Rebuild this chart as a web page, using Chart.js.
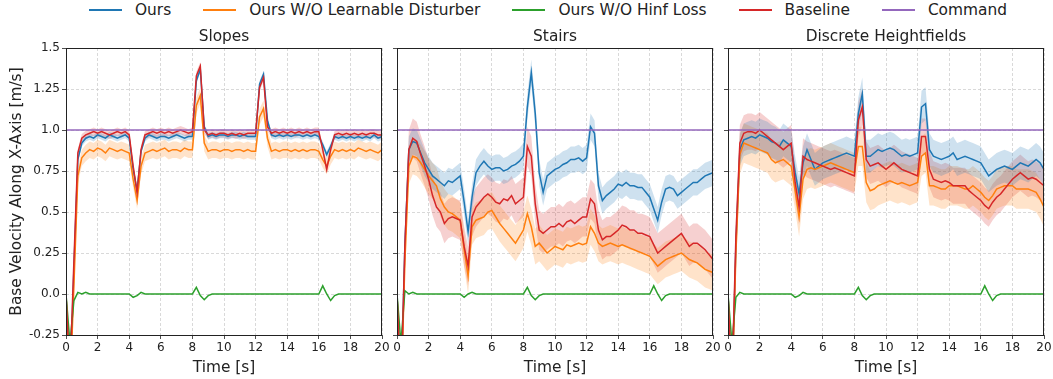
<!DOCTYPE html>
<html>
<head>
<meta charset="utf-8">
<script src="https://cdn.jsdelivr.net/npm/chart.js@4.4.1/dist/chart.umd.min.js"></script>
<style>
  body { margin: 0; background: #fff; width: 1053px; height: 379px; overflow: hidden; position: relative; font-family: "DejaVu Sans", sans-serif; }
  #legend { position: absolute; left: 89px; top: 0; height: 20px; display: flex; align-items: center; font-size: 15.4px; color: #222; white-space: nowrap; }
  .item { display: flex; align-items: center; margin-right: 32px; }
  .sw { width: 33px; height: 2px; margin-right: 13px; }
  canvas { position: absolute; top: 22px; }
</style>
</head>
<body>
<div id="legend"></div>
<canvas id="c1" width="390" height="357" style="left:0px"></canvas>
<canvas id="c2" width="330" height="357" style="left:390px"></canvas>
<canvas id="c3" width="333" height="357" style="left:720px"></canvas>
<script>
// sample times, every 0.25 s from 0 to 20
const times = Array.from({length: 81}, (_, i) => i * 0.25);

const seriesNames = ['Ours', 'Ours W/O Learnable Disturber', 'Ours W/O Hinf Loss', 'Baseline', 'Command'];
const seriesColors = ['#1f77b4', '#ff7f0e', '#2ca02c', '#d62728', '#9467bd'];
const bandColors = ['rgba(31,119,180,0.22)', 'rgba(255,127,14,0.22)', 'rgba(44,160,44,0.2)', 'rgba(214,39,40,0.22)'];
const panelTitles = ['Slopes', 'Stairs', 'Discrete Heightfields'];
const xTickLabels = ['0', '2', '4', '6', '8', '10', '12', '14', '16', '18', '20'];
const yTickLabels = ['-0.25', '0.0', '0.25', '0.5', '0.75', '1.0', '1.25', '1.5'];
const commandValue = 1.0;

// ---- Slopes ----
const slopesOurs = [
  0, -0.55, 0.15, 0.82, 0.92, 0.95, 0.96, 0.95,
  0.97, 0.96, 0.95, 0.97, 0.96, 0.95, 0.96, 0.97,
  0.95, 0.76, 0.63, 0.87, 0.95, 0.97, 0.96, 0.95,
  0.96, 0.96, 0.95, 0.96, 0.97, 0.96, 0.95, 0.96,
  0.96, 1.30, 1.37, 1.02, 0.96, 0.97, 0.96, 0.97,
  0.97, 0.96, 0.97, 0.97, 0.96, 0.97, 0.96, 0.96,
  0.96, 1.28, 1.34, 1.06, 0.97, 0.96, 0.97, 0.96,
  0.97, 0.96, 0.97, 0.97, 0.96, 0.97, 0.96, 0.97,
  0.96, 0.91, 0.85, 0.90, 0.96, 0.95, 0.96, 0.95,
  0.96, 0.95, 0.96, 0.95, 0.96, 0.95, 0.97, 0.95,
  0.96
];
const slopesNoDisturber = [
  0, -0.6, 0.05, 0.72, 0.83, 0.86, 0.88, 0.87,
  0.89, 0.88, 0.86, 0.89, 0.88, 0.87, 0.88, 0.87,
  0.86, 0.70, 0.57, 0.78, 0.86, 0.87, 0.88, 0.87,
  0.88, 0.89, 0.87, 0.88, 0.88, 0.87, 0.89, 0.88,
  0.88, 1.15, 1.21, 0.92, 0.87, 0.88, 0.88, 0.87,
  0.88, 0.88, 0.87, 0.88, 0.88, 0.87, 0.88, 0.87,
  0.87, 1.08, 1.13, 0.95, 0.87, 0.88, 0.87, 0.88,
  0.88, 0.87, 0.88, 0.87, 0.88, 0.87, 0.88, 0.88,
  0.87, 0.82, 0.78, 0.84, 0.88, 0.87, 0.88, 0.87,
  0.88, 0.87, 0.89, 0.88, 0.87, 0.88, 0.87, 0.86,
  0.88
];
const slopesNoHinf = [
  0, -0.3, -0.04, 0.01, 0.0, 0.01, 0.0, 0.0,
  0.0, 0.0, 0.0, 0.0, 0.0, 0.0, 0.0, 0.0,
  0.0, -0.02, -0.01, 0.01, 0.0, 0.0, 0.0, 0.0,
  0.0, 0.0, 0.0, 0.0, 0.0, 0.0, 0.0, 0.0,
  0.0, 0.04, -0.01, -0.035, -0.01, 0.0, 0.0, 0.0,
  0.0, 0.0, 0.0, 0.0, 0.0, 0.0, 0.0, 0.0,
  0.0, 0.0, 0.0, 0.0, 0.0, 0.0, 0.0, 0.0,
  0.0, 0.0, 0.0, 0.0, 0.0, 0.0, 0.0, 0.0,
  0.0, 0.05, 0.0, -0.04, -0.01, 0.0, 0.0, 0.0,
  0.0, 0.0, 0.0, 0.0, 0.0, 0.0, 0.0, 0.0,
  0.0
];
const slopesBaseline = [
  0, -0.5, 0.2, 0.86, 0.95, 0.97, 0.98, 0.99,
  0.98, 0.99, 0.98, 0.97, 0.98, 0.99, 0.98, 0.99,
  0.97, 0.78, 0.62, 0.88, 0.97, 0.98, 0.99, 0.98,
  0.99, 0.98, 0.99, 0.98, 0.99, 1.00, 0.99, 0.98,
  0.99, 1.33, 1.39, 1.00, 0.97, 0.98, 0.97, 0.98,
  0.98, 0.97, 0.98, 0.97, 0.98, 0.97, 0.98, 0.98,
  0.98, 1.26, 1.32, 1.02, 0.98, 0.99, 0.98, 0.99,
  0.98, 0.99, 0.98, 0.99, 0.98, 0.99, 0.98, 0.99,
  0.99, 0.88, 0.76, 0.88, 0.97, 0.98, 0.97, 0.98,
  0.97, 0.98, 0.97, 0.98, 0.97, 0.98, 0.98, 0.97,
  0.97
];
const slopesSpread = [0.02, 0.05, 0.005, 0.025];

// ---- Stairs ----
const stairsOurs = [
  0, -0.6, 0.3, 0.88, 0.93, 0.92, 0.86, 0.80,
  0.76, 0.72, 0.70, 0.68, 0.66, 0.69, 0.68, 0.70,
  0.72, 0.56, 0.38, 0.59, 0.74, 0.78, 0.81, 0.78,
  0.76, 0.77, 0.77, 0.75, 0.76, 0.78, 0.79, 0.81,
  0.84, 1.14, 1.35, 1.10, 0.74, 0.62, 0.72, 0.74,
  0.76, 0.77, 0.79, 0.80, 0.82, 0.82, 0.83, 0.81,
  0.83, 1.02, 0.98, 0.66, 0.57, 0.60, 0.62, 0.64,
  0.67, 0.66, 0.68, 0.66, 0.66, 0.65, 0.65, 0.62,
  0.59, 0.52, 0.45, 0.56, 0.64, 0.65, 0.64, 0.60,
  0.62, 0.64, 0.66, 0.68, 0.68, 0.70, 0.72, 0.73,
  0.74
];
const stairsNoDisturber = [
  0, -0.65, 0.2, 0.78, 0.84, 0.83, 0.80, 0.76,
  0.72, 0.69, 0.66, 0.58, 0.53, 0.50, 0.49, 0.47,
  0.45, 0.27, 0.11, 0.41, 0.45, 0.46, 0.47, 0.50,
  0.51, 0.47, 0.43, 0.40, 0.37, 0.34, 0.31, 0.35,
  0.39, 0.49, 0.41, 0.29, 0.31, 0.28, 0.25, 0.27,
  0.29, 0.28, 0.27, 0.30, 0.29, 0.30, 0.31, 0.30,
  0.31, 0.41, 0.37, 0.31, 0.29, 0.30, 0.31, 0.30,
  0.29, 0.30, 0.29, 0.28, 0.27, 0.26, 0.25, 0.24,
  0.23, 0.20, 0.17, 0.19, 0.21, 0.22, 0.23, 0.24,
  0.25, 0.23, 0.21, 0.20, 0.19, 0.17, 0.15, 0.14,
  0.13
];
const stairsNoHinf = [
  0, -0.3, 0.02, 0.0, 0.01, 0.0, 0.0, 0.0,
  0.0, 0.0, 0.0, 0.0, 0.0, 0.0, 0.0, 0.0,
  0.0, -0.02, 0.0, 0.01, 0.0, 0.0, 0.0, 0.0,
  0.0, 0.0, 0.0, 0.0, 0.0, 0.0, 0.0, 0.0,
  0.0, 0.04, -0.01, -0.035, -0.01, 0.0, 0.0, 0.0,
  0.0, 0.0, 0.0, 0.0, 0.0, 0.0, 0.0, 0.0,
  0.0, 0.0, 0.0, 0.0, 0.0, 0.0, 0.0, 0.0,
  0.0, 0.0, 0.0, 0.0, 0.0, 0.0, 0.0, 0.0,
  0.0, 0.05, 0.0, -0.04, -0.01, 0.0, 0.0, 0.0,
  0.0, 0.0, 0.0, 0.0, 0.0, 0.0, 0.0, 0.0,
  0.0
];
const stairsBaseline = [
  0, -0.6, 0.3, 0.88, 0.95, 0.93, 0.85, 0.78,
  0.70, 0.60, 0.53, 0.50, 0.43, 0.46, 0.47, 0.46,
  0.45, 0.29, 0.17, 0.47, 0.53, 0.56, 0.59, 0.61,
  0.59, 0.56, 0.55, 0.58, 0.57, 0.60, 0.55, 0.57,
  0.59, 0.90, 0.84, 0.55, 0.39, 0.37, 0.39, 0.41,
  0.41, 0.43, 0.41, 0.44, 0.45, 0.43, 0.45, 0.47,
  0.47, 0.58, 0.55, 0.39, 0.33, 0.35, 0.35, 0.37,
  0.39, 0.42, 0.41, 0.39, 0.39, 0.37, 0.37, 0.36,
  0.35, 0.30, 0.25, 0.27, 0.29, 0.31, 0.33, 0.35,
  0.37, 0.33, 0.29, 0.31, 0.31, 0.29, 0.27, 0.24,
  0.21
];
const stairsSpread = [0.08, 0.11, 0.005, 0.12];

// ---- Discrete Heightfields ----
const heightOurs = [
  0, -0.6, 0.3, 0.88, 0.94, 0.95, 0.96, 0.95,
  0.97, 0.96, 0.95, 0.93, 0.92, 0.90, 0.94, 0.92,
  0.90, 0.74, 0.61, 0.80, 0.88, 0.82, 0.76, 0.78,
  0.80, 0.81, 0.82, 0.83, 0.84, 0.85, 0.86, 0.85,
  0.84, 1.10, 1.22, 0.84, 0.84, 0.86, 0.88, 0.87,
  0.88, 0.89, 0.88, 0.86, 0.84, 0.85, 0.84, 0.85,
  0.86, 1.14, 1.16, 0.88, 0.84, 0.83, 0.82, 0.83,
  0.84, 0.86, 0.82, 0.83, 0.84, 0.83, 0.82, 0.81,
  0.80, 0.76, 0.72, 0.74, 0.76, 0.77, 0.78, 0.77,
  0.76, 0.78, 0.80, 0.79, 0.78, 0.80, 0.82, 0.80,
  0.76
];
const heightNoDisturber = [
  0, -0.65, 0.25, 0.85, 0.92, 0.91, 0.90, 0.89,
  0.88, 0.87, 0.86, 0.82, 0.80, 0.81, 0.82, 0.80,
  0.78, 0.63, 0.47, 0.70, 0.76, 0.77, 0.76, 0.77,
  0.78, 0.79, 0.80, 0.79, 0.78, 0.77, 0.76, 0.75,
  0.74, 0.90, 0.90, 0.68, 0.63, 0.64, 0.66, 0.67,
  0.68, 0.69, 0.68, 0.67, 0.68, 0.67, 0.66, 0.67,
  0.68, 0.84, 0.86, 0.66, 0.66, 0.65, 0.64, 0.64,
  0.66, 0.66, 0.66, 0.65, 0.64, 0.64, 0.66, 0.64,
  0.62, 0.59, 0.57, 0.60, 0.64, 0.65, 0.66, 0.66,
  0.66, 0.64, 0.64, 0.64, 0.64, 0.63, 0.62, 0.58,
  0.53
];
const heightNoHinf = [
  0, -0.3, -0.02, 0.01, 0.0, 0.0, 0.0, 0.0,
  0.0, 0.0, 0.0, 0.0, 0.0, 0.0, 0.0, 0.0,
  0.0, -0.02, -0.01, 0.01, 0.0, 0.0, 0.0, 0.0,
  0.0, 0.0, 0.0, 0.0, 0.0, 0.0, 0.0, 0.0,
  0.0, 0.04, -0.01, -0.035, -0.01, 0.0, 0.0, 0.0,
  0.0, 0.0, 0.0, 0.0, 0.0, 0.0, 0.0, 0.0,
  0.0, 0.0, 0.0, 0.0, 0.0, 0.0, 0.0, 0.0,
  0.0, 0.0, 0.0, 0.0, 0.0, 0.0, 0.0, 0.0,
  0.0, 0.05, 0.0, -0.04, -0.01, 0.0, 0.0, 0.0,
  0.0, 0.0, 0.0, 0.0, 0.0, 0.0, 0.0, 0.0,
  0.0
];
const heightBaseline = [
  0, -0.55, 0.35, 0.92, 0.98, 0.99, 0.99, 0.98,
  1.00, 0.98, 0.96, 0.94, 0.92, 0.90, 0.88, 0.90,
  0.92, 0.68, 0.53, 0.84, 0.82, 0.81, 0.80, 0.79,
  0.78, 0.77, 0.76, 0.77, 0.76, 0.75, 0.74, 0.73,
  0.72, 1.06, 1.14, 0.82, 0.78, 0.79, 0.80, 0.78,
  0.76, 0.78, 0.80, 0.78, 0.76, 0.75, 0.74, 0.73,
  0.72, 0.96, 0.96, 0.76, 0.70, 0.69, 0.68, 0.69,
  0.68, 0.66, 0.66, 0.66, 0.66, 0.63, 0.61, 0.59,
  0.57, 0.54, 0.52, 0.56, 0.59, 0.61, 0.64, 0.67,
  0.70, 0.72, 0.74, 0.72, 0.70, 0.71, 0.70, 0.68,
  0.66
];
const heightSpread = [0.1, 0.12, 0.005, 0.11];

Chart.defaults.font.family = "'DejaVu Sans', sans-serif";
Chart.defaults.color = '#222';

// legend (shared by the three panels)
const legendEl = document.getElementById('legend');
seriesNames.forEach((name, i) => {
  const item = document.createElement('div');
  item.className = 'item';
  item.innerHTML = '<span class="sw" style="background:' + seriesColors[i] + '"></span><span>' + name + '</span>';
  legendEl.appendChild(item);
});

// box around the plot area + panel title centred on the plot area
const framePlugin = {
  id: 'frame',
  afterDraw(chart) {
    const { ctx, chartArea: a } = chart;
    ctx.save();
    ctx.strokeStyle = '#222';
    ctx.lineWidth = 1;
    ctx.strokeRect(Math.round(a.left) + 0.5, Math.round(a.top) + 0.5,
      Math.round(a.right - a.left) - 1, Math.round(a.bottom - a.top));
    ctx.fillStyle = '#222';
    ctx.font = "15.4px 'DejaVu Sans', sans-serif";
    ctx.textAlign = 'center';
    ctx.textBaseline = 'middle';
    ctx.fillText(chart.options.panelTitle, (a.left + a.right) / 2, a.top - 11);
    ctx.restore();
  }
};

const toPoints = (vals) => vals.map((v, i) => ({ x: times[i], y: v }));

function makeChart(id, title, series, spread, opt) {
  const datasets = [];
  // shaded bands first (mean +/- spread)
  series.forEach((vals, k) => {
    if (k === 2) return;
    const lowIdx = datasets.length;
    datasets.push({
      data: toPoints(vals.map(v => v - spread[k])),
      borderWidth: 0, pointRadius: 0, fill: false, order: 10
    });
    datasets.push({
      data: toPoints(vals.map(v => v + spread[k])),
      borderWidth: 0, pointRadius: 0, fill: lowIdx,
      backgroundColor: bandColors[k], order: 10
    });
  });
  const lineOrder = [4, 3, 2, 1];
  series.forEach((vals, k) => {
    datasets.push({
      label: seriesNames[k],
      data: toPoints(vals),
      borderColor: seriesColors[k],
      borderWidth: 1.5,
      pointRadius: 0,
      tension: 0,
      fill: false,
      order: lineOrder[k]
    });
  });
  datasets.push({
    label: seriesNames[4],
    data: [{ x: 0, y: commandValue }, { x: 20, y: commandValue }],
    borderColor: seriesColors[4],
    borderWidth: 1.5,
    pointRadius: 0,
    fill: false,
    order: 0
  });

  return new Chart(document.getElementById(id), {
    type: 'line',
    data: { datasets },
    options: {
      panelTitle: title,
      responsive: false,
      animation: false,
      layout: { padding: { left: 0, right: opt.padRight, top: 26, bottom: 0 } },
      plugins: {
        legend: { display: false },
        tooltip: { enabled: false },
        filler: { drawTime: 'beforeDatasetsDraw' }
      },
      scales: {
        x: {
          type: 'linear',
          min: 0, max: 20,
          ticks: {
            stepSize: 2, maxRotation: 0, padding: 2,
            font: { size: 12 }, color: '#222',
            callback: (v, i) => xTickLabels[i]
          },
          grid: { color: '#cfcfcf', lineWidth: 0.8, tickColor: '#222', tickLength: 4, tickBorderDash: [] },
          border: { display: false, dash: [3, 2] },
          title: { display: true, text: 'Time [s]', color: '#222', font: { size: 15.4 }, padding: { top: 0, bottom: 2 } },
          afterFit: (s) => { s.height = 44; s.paddingLeft = 0; s.paddingRight = 0; }
        },
        y: {
          type: 'linear',
          min: -0.25, max: 1.5,
          ticks: {
            stepSize: 0.25, padding: 2, display: opt.showLabels,
            font: { size: 12 }, color: '#222',
            callback: (v, i) => yTickLabels[i]
          },
          grid: { color: '#cfcfcf', lineWidth: 0.8, tickColor: '#222', tickLength: 4, tickBorderDash: [] },
          border: { display: false, dash: [3, 2] },
          title: {
            display: opt.showLabels,
            text: 'Base Velocity Along X-Axis [m/s]',
            color: '#222', font: { size: 15.4 }, padding: { top: 8, bottom: 0 }
          },
          afterFit: (s) => { s.width = opt.yWidth; }
        }
      }
    },
    plugins: [framePlugin]
  });
}

makeChart('c1', panelTitles[0], [slopesOurs, slopesNoDisturber, slopesNoHinf, slopesBaseline], slopesSpread,
  { showLabels: true, yWidth: 66, padRight: 8 });
makeChart('c2', panelTitles[1], [stairsOurs, stairsNoDisturber, stairsNoHinf, stairsBaseline], stairsSpread,
  { showLabels: false, yWidth: 7, padRight: 7 });
makeChart('c3', panelTitles[2], [heightOurs, heightNoDisturber, heightNoHinf, heightBaseline], heightSpread,
  { showLabels: false, yWidth: 8, padRight: 9 });
</script>
</body>
</html>
